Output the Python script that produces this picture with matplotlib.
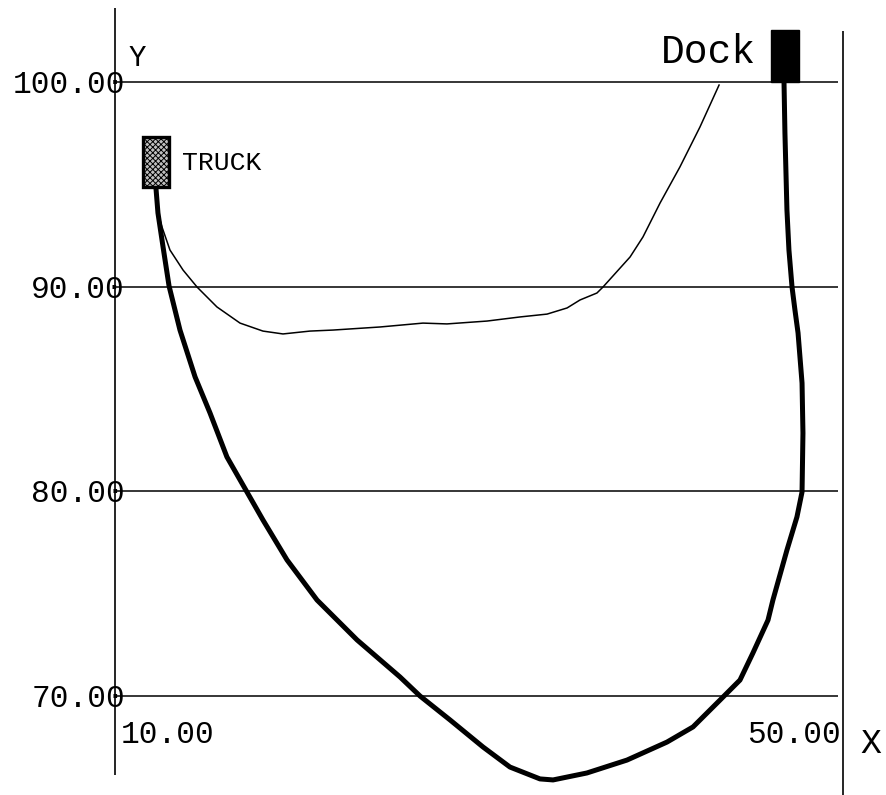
import matplotlib
matplotlib.use("Agg")
import matplotlib.pyplot as plt
from matplotlib.patches import Rectangle

# Truck path: fuzzy-controlled trajectory (thick) and the reference run (thin)
path_x = [12.25, 12.36, 12.64, 12.97, 13.57, 14.40, 15.22, 16.15, 17.25, 18.13,
          19.45, 21.10, 23.30, 25.66, 26.76, 28.41, 30.22, 31.70, 33.35, 34.07,
          35.93, 38.13, 40.33, 41.76, 43.24, 44.34, 45.05, 45.88, 46.15, 46.92,
          47.47, 47.75, 47.80, 47.75, 47.53, 47.36, 47.20, 47.03, 46.92, 46.81,
          46.76]
path_y = [94.82, 93.60, 91.94, 90.03, 87.88, 85.59, 83.83, 81.68, 79.97, 78.60,
          76.65, 74.69, 72.74, 70.93, 70.00, 68.83, 67.51, 66.53, 65.95, 65.90,
          66.24, 66.87, 67.75, 68.49, 69.80, 70.78, 72.10, 73.71, 74.69, 77.13,
          78.75, 79.97, 82.85, 85.29, 87.74, 88.86, 89.98, 91.79, 93.75, 97.51,
          99.95]

ref_x = [12.25, 12.36, 12.58, 13.02, 13.74, 14.51, 15.60, 16.87, 18.13, 19.23,
         20.71, 21.98, 24.56, 26.92, 28.24, 30.44, 32.25, 33.74, 34.84, 35.55,
         36.48, 36.81, 38.30, 39.01, 39.95, 41.04, 42.14, 43.19]
ref_y = [94.72, 93.60, 92.92, 91.79, 90.81, 89.98, 89.01, 88.22, 87.83, 87.69,
         87.83, 87.88, 88.03, 88.22, 88.18, 88.32, 88.52, 88.66, 88.96, 89.35,
         89.69, 89.98, 91.45, 92.43, 94.09, 95.85, 97.80, 99.85]

y_ticks = [100, 90, 80, 70]
y_tick_labels = ["100.00", "90.00", "80.00", "70.00"]
x_ticks = [10, 50]
x_tick_labels = ["10.00", "50.00"]

# truck box (x0, y0, width, height) and dock box
truck_box = (11.54, 94.87, 1.43, 2.44)
dock_box = (46.04, 100.0, 1.54, 2.54)

FONT = "Liberation Mono"

fig = plt.figure(figsize=(8.87, 7.95), dpi=100)
ax = fig.add_axes([0, 0, 1, 1])
ax.set_xlim(3.681, 52.418)
ax.set_ylim(65.164, 104.006)
ax.axis("off")

# frame lines
ax.vlines(10, 66.14, 103.62, color="black", lw=1.2)
ax.vlines(50, 65.164, 102.49, color="black", lw=1.2)
ax.hlines(y_ticks, 10, 49.73, color="black", lw=1.1)

# tick labels
for yv, lab in zip(y_ticks, y_tick_labels):
    ax.text(10.55, yv - 0.15, lab, ha="right", va="center",
            family=FONT, fontsize=22.5, color="black")
ax.text(x_ticks[0] + 0.33, 68.10, x_tick_labels[0], ha="left", va="center",
        family=FONT, fontsize=22.5)
ax.text(x_ticks[1] - 0.12, 68.10, x_tick_labels[1], ha="right", va="center",
        family=FONT, fontsize=22.5)
ax.text(51.54, 67.70, "X", ha="center", va="center", family=FONT, fontsize=25)
ax.text(11.21, 101.17, "Y", ha="center", va="center", family=FONT, fontsize=21)

# trajectories
ax.plot(ref_x, ref_y, color="black", lw=1.1, solid_joinstyle="round")
ax.plot(path_x, path_y, color="black", lw=3.6, solid_joinstyle="round",
        solid_capstyle="round")

# truck and dock
plt.rcParams["hatch.linewidth"] = 0.7
ax.add_patch(Rectangle(truck_box[:2], truck_box[2], truck_box[3],
                       facecolor="#c0c0c0", edgecolor="black", lw=2.4,
                       hatch="xxxxxx", zorder=5))
ax.add_patch(Rectangle(dock_box[:2], dock_box[2], dock_box[3],
                       facecolor="black", edgecolor="black", lw=1, zorder=5))
ax.text(13.70, 96.04, "TRUCK", ha="left", va="center", family=FONT, fontsize=19)
ax.text(45.20, 101.47, "Dock", ha="right", va="center", family=FONT, fontsize=28.5)

fig.savefig("out.png", dpi=100)
